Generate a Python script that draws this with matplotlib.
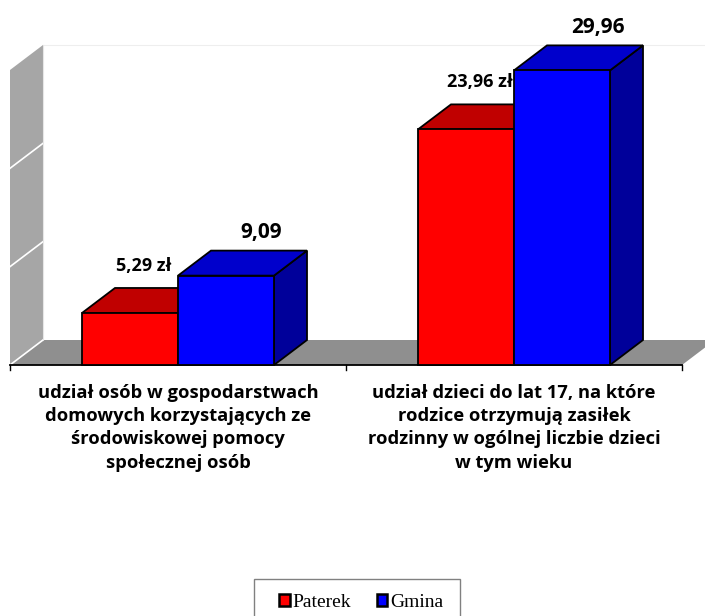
import matplotlib
matplotlib.use("Agg")
import matplotlib.pyplot as plt
from matplotlib.patches import Polygon, Patch, Rectangle

# data
categories = [
    "udział osób w gospodarstwach\ndomowych korzystających ze\nśrodowiskowej pomocy\nspołecznej osób",
    "udział dzieci do lat 17, na które\nrodzice otrzymują zasiłek\nrodzinny w ogólnej liczbie dzieci\nw tym wieku",
]
series_names = ["Paterek", "Gmina"]
paterek = [5.29, 23.96]
gmina = [9.09, 29.96]
paterek_labels = ["5,29 zł", "23,96 zł"]
gmina_labels = ["9,09", "29,96"]
y_ticks = [0, 10, 20, 30]

# colours: front, top, side
colors = {
    "Paterek": ("#ff0000", "#c00000", "#990000"),
    "Gmina": ("#0000ff", "#0000cc", "#00009a"),
}

W, H = 705, 616
fig = plt.figure(figsize=(W / 100, H / 100), dpi=100)
# front plane of the 3D plot, pixels: x 10..682, y 365 (0) .. 70 (30)
ax = fig.add_axes([10 / W, (H - 365) / H, 672 / W, 295 / H])
ax.set_xlim(-0.5, len(categories) - 0.5)
ax.set_ylim(y_ticks[0], y_ticks[-1])
ax.axis("off")

# oblique depth offset (33 px right, 25 px up) in data units
ddx = 33 / (672 / len(categories))
ddy = 25 / (295 / (y_ticks[-1] - y_ticks[0]))
bar_w = 96 / (672 / len(categories))

xl, xr = -0.5, len(categories) - 0.5
ymax = y_ticks[-1]


def poly(pts, fc, ec="none", lw=0, z=1):
    ax.add_patch(Polygon(pts, closed=True, facecolor=fc, edgecolor=ec,
                         linewidth=lw, zorder=z, clip_on=False,
                         joinstyle="miter"))


# side wall and floor
poly([(xl, 0), (xl, ymax), (xl + ddx, ymax + ddy), (xl + ddx, ddy)], "#a6a6a6", z=1)
poly([(xl, 0), (xr, 0), (xr + ddx, ddy), (xl + ddx, ddy)], "#8f8f8f", z=1)
ax.plot([xl + ddx, xr + ddx + 0.2], [ymax + ddy] * 2, color="#eeeeee", lw=0.8,
        clip_on=False, zorder=0.5)
for v in y_ticks[:-1]:
    ax.plot([xl, xl + ddx], [v, v + ddy], color="white", lw=1.2,
            clip_on=False, zorder=1.5)
ax.plot([xl + ddx, xl + ddx], [ddy, ymax + ddy], color="#e6e6e6", lw=0.8,
        clip_on=False, zorder=1.5)

# category axis
ax.plot([xl, xr], [0, 0], color="black", lw=1.3, clip_on=False, zorder=2)
for t in [xl + i for i in range(len(categories) + 1)]:
    ax.plot([t, t], [0, -0.55], color="black", lw=1, clip_on=False, zorder=2)


def bar3d(x0, h, name, z):
    front, top, side = colors[name]
    x1 = x0 + bar_w
    lw = 1.3
    poly([(x1, 0), (x1 + ddx, ddy), (x1 + ddx, h + ddy), (x1, h)], side, "black", lw, z)
    poly([(x0, h), (x1, h), (x1 + ddx, h + ddy), (x0 + ddx, h + ddy)], top, "black", lw, z)
    poly([(x0, 0), (x1, 0), (x1, h), (x0, h)], front, "black", lw, z + 0.1)


lab_font = "Open Sans"
for i in range(len(categories)):
    bar3d(i - bar_w, paterek[i], "Paterek", 3)
    bar3d(i, gmina[i], "Gmina", 4)
    ax.annotate(paterek_labels[i], xy=(i - bar_w / 2 + ddx / 2, paterek[i] + ddy),
                xytext=(-3, 22), textcoords="offset pixels", ha="center",
                va="center", fontsize=13, fontweight="bold", family=lab_font,
                annotation_clip=False, zorder=6)
    ax.annotate(gmina_labels[i], xy=(i + bar_w / 2 + ddx / 2, gmina[i] + ddy),
                xytext=(19, 18), textcoords="offset pixels", ha="center",
                va="center", fontsize=15, fontweight="bold", family=lab_font,
                annotation_clip=False, zorder=6)
    ax.annotate(categories[i], xy=(i, 0), xytext=(0, -19),
                textcoords="offset pixels", ha="center", va="top",
                fontsize=13.2, fontweight="bold", family=lab_font,
                linespacing=1.37, annotation_clip=False)

# legend: frame drawn separately, it runs off the bottom edge
fig.patches.append(Rectangle((254 / W, -0.01), (460 - 254) / W, 0.01 + (H - 579) / H,
                             transform=fig.transFigure, facecolor="white",
                             edgecolor="#808080", linewidth=1, zorder=5))
handles = [Patch(facecolor=colors[n][0], edgecolor="black", linewidth=1.8)
           for n in series_names]
leg = fig.legend(handles, series_names, loc="upper left",
                 bbox_to_anchor=(279 / W, 1 - 594 / H),
                 ncol=2, frameon=False,
                 prop={"family": "Liberation Serif", "size": 14},
                 handlelength=0.55, handleheight=0.55, handletextpad=0.15,
                 columnspacing=1.3, borderpad=0, borderaxespad=0)
leg.set_zorder(6)

fig.savefig("out.png", dpi=100)
